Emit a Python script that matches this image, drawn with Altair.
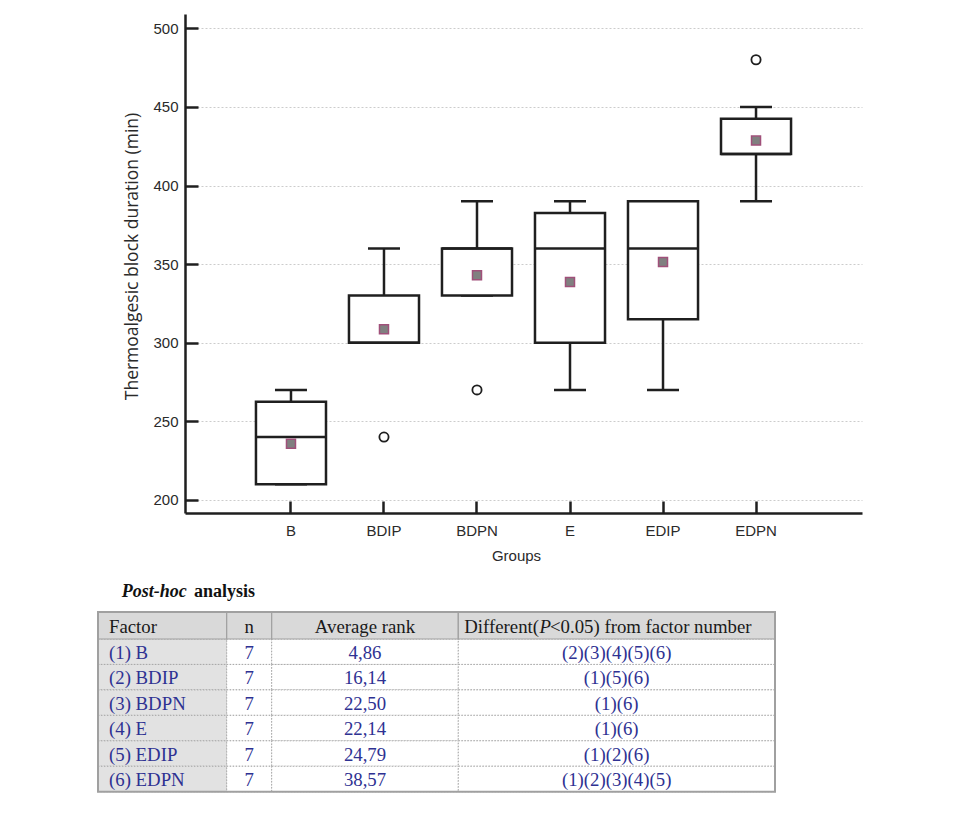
import altair as alt
import pandas as pd

# ---------------- data ----------------
groups = ["B", "BDIP", "BDPN", "E", "EDIP", "EDPN"]
whisker_low = [210, 300, 330, 270, 270, 390]
q1 = [210, 300, 330, 300, 315, 420]
median = [240, 300, 360, 360, 360, 420]
q3 = [262.5, 330, 360, 382.5, 390, 442.5]
whisker_high = [270, 360, 390, 390, 390, 450]
means = [235.71, 308.57, 342.86, 338.57, 351.43, 428.57]
outlier_groups = ["BDIP", "BDPN", "EDPN"]
outlier_values = [240, 270, 480]
y_ticks = [200, 250, 300, 350, 400, 450, 500]

table_title_italic = "Post-hoc"
table_title_bold = "analysis"
header_factor = "Factor"
header_n = "n"
header_rank = "Average rank"
header_diff = ["Different(", "P", "<0.05) from factor number"]
factors = ["(1) B", "(2) BDIP", "(3) BDPN", "(4) E", "(5) EDIP", "(6) EDPN"]
n_values = ["7", "7", "7", "7", "7", "7"]
avg_rank = ["4,86", "16,14", "22,50", "22,14", "24,79", "38,57"]
different = ["(2)(3)(4)(5)(6)", "(1)(5)(6)", "(1)(6)", "(1)(6)", "(1)(2)(6)", "(1)(2)(3)(4)(5)"]

# ---------------- layout / style ----------------
W, H = 677, 499
AX = "#1f1f1f"
TXT = "#2a2a2a"
BLUE = "#2e3192"
SANS = "Liberation Sans"
SERIF = "Liberation Serif"
TFS = 18.8

box_df = pd.DataFrame({"group": groups, "lo": whisker_low, "q1": q1, "med": median,
                       "q3": q3, "hi": whisker_high, "mean": means})
out_df = pd.DataFrame({"group": outlier_groups, "value": outlier_values})

xscale = alt.Scale(type="band", domain=groups, paddingInner=0.247, paddingOuter=0.763)
yscale = alt.Scale(domain=[191.7, 509.1], nice=False, zero=False)

x_axis = alt.Axis(title="Groups", labelAngle=0, ticks=False, tickSize=0, domainColor=AX,
                  domainWidth=2.5, labelFont=SANS, labelFontSize=15, labelColor=TXT,
                  labelPadding=10, titleFont=SANS, titleFontSize=15, titleFontWeight="normal",
                  titleColor=TXT, titlePadding=10, titleX=331, grid=False)
y_axis = alt.Axis(title="Thermoalgesic block duration (min)", values=y_ticks, ticks=False,
                  tickSize=0, domainColor=AX, domainWidth=2.5, labelFont=SANS,
                  labelFontSize=15, labelColor=TXT, labelPadding=7, grid=True,
                  gridColor="#cccccc", gridDash=[2, 2], gridWidth=1, titleFont="Open Sans",
                  titleFontSize=17.5, titleFontWeight="normal", titleColor=TXT, titlePadding=11,
                  titleY=242)

X = alt.X("group:N", scale=xscale, axis=x_axis)

def Y(field):
    return alt.Y(field, scale=yscale, axis=y_axis)

base = alt.Chart(box_df)
whisk_lo = base.mark_rule(color=AX, strokeWidth=2.5, opacity=1).encode(x=X, y=Y("lo:Q"), y2="q1:Q")
whisk_hi = base.mark_rule(color=AX, strokeWidth=2.5, opacity=1).encode(x=X, y=Y("q3:Q"), y2="hi:Q")
cap_lo = base.mark_tick(color=AX, size=32, thickness=2.5, opacity=1).encode(x=X, y=Y("lo:Q"))
cap_hi = base.mark_tick(color=AX, size=32, thickness=2.5, opacity=1).encode(x=X, y=Y("hi:Q"))
boxes = base.mark_bar(fill="white", stroke=AX, strokeWidth=2.5, opacity=1).encode(
    x=X, y=Y("q1:Q"), y2="q3:Q")
med = base.mark_tick(color=AX, size=70, thickness=2.5, opacity=1).encode(x=X, y=Y("med:Q"))
mean_pts = base.mark_square(size=81, filled=True, fill="#808080", stroke="#a0507a",
                            strokeWidth=1.5, opacity=1).encode(x=X, y=Y("mean:Q"))
outl = alt.Chart(out_df).mark_point(shape="circle", size=85, filled=False, stroke=AX,
                                    strokeWidth=1.8, opacity=1).encode(x=X, y=Y("value:Q"))

box_layer = alt.layer(whisk_lo, whisk_hi, cap_lo, cap_hi, boxes, med, mean_pts, outl)

# inward ticks via mirrored axes
tick_layer = alt.Chart(box_df).mark_point(opacity=0).encode(
    x=alt.X("group:N", scale=xscale,
            axis=alt.Axis(orient="top", offset=-H, labels=False, domain=False, ticks=True,
                          tickSize=12, tickWidth=2.5, tickColor=AX, grid=False, title=None)),
    y=alt.Y("mean:Q", scale=yscale,
            axis=alt.Axis(orient="right", offset=-W, values=y_ticks, labels=False,
                          domain=False, ticks=True, tickSize=13, tickWidth=2.5,
                          tickColor=AX, grid=False, title=None)),
)

# ---------------- table ----------------
col_edges = [0, 128.7, 173.7, 360.3, 677]
header_h = 27
row_h = 25.45
tx_scale = alt.Scale(domain=[87, 87 + W], nice=False, zero=False)
ty_scale = alt.Scale(domain=[-598, -598 + H], nice=False, zero=False, reverse=True)

cells = []
for r in range(7):
    y0 = 0 if r == 0 else header_h + (r - 1) * row_h
    y1 = header_h if r == 0 else y0 + row_h
    for c in range(4):
        fill = "#d9d9d9" if r == 0 else ("#e2e2e2" if c == 0 else "#ffffff")
        cells.append({"x0": col_edges[c], "x1": col_edges[c + 1], "y0": y0, "y1": y1,
                      "fill": fill, "hdr": r == 0})
cells_df = pd.DataFrame(cells)

TXs = lambda f: alt.X(f, scale=tx_scale, axis=None)
TYs = lambda f: alt.Y(f, scale=ty_scale, axis=None)

body_rects = alt.Chart(cells_df).transform_filter("!datum.hdr").mark_rect(
    stroke="#a8a8a8", strokeWidth=1, strokeDash=[1.5, 1.5]).encode(
    x=TXs("x0:Q"), x2="x1:Q", y=TYs("y0:Q"), y2="y1:Q", fill=alt.Fill("fill:N", scale=None))
hdr_rects = alt.Chart(cells_df).transform_filter("datum.hdr").mark_rect(
    stroke="#a0a0a0", strokeWidth=1.2).encode(
    x=TXs("x0:Q"), x2="x1:Q", y=TYs("y0:Q"), y2="y1:Q", fill=alt.Fill("fill:N", scale=None))
border_df = pd.DataFrame({"x0": [col_edges[0]], "x1": [col_edges[-1]], "y0": [0],
                          "y1": [header_h + 6 * row_h]})
border = alt.Chart(border_df).mark_rect(fill=None, stroke="#a0a0a0", strokeWidth=2).encode(
    x=TXs("x0:Q"), x2="x1:Q", y=TYs("y0:Q"), y2="y1:Q")

left_texts = [{"x": 11, "y": header_h / 2, "t": header_factor, "col": "#1a1a1a"}]
center_texts = [
    {"x": (col_edges[1] + col_edges[2]) / 2, "y": header_h / 2, "t": header_n, "col": "#1a1a1a"},
    {"x": (col_edges[2] + col_edges[3]) / 2, "y": header_h / 2, "t": header_rank, "col": "#1a1a1a"},
]
for i in range(6):
    yc = header_h + row_h * (i + 0.5)
    left_texts.append({"x": 11, "y": yc, "t": factors[i], "col": BLUE})
    center_texts.append({"x": (col_edges[1] + col_edges[2]) / 2, "y": yc, "t": n_values[i], "col": BLUE})
    center_texts.append({"x": (col_edges[2] + col_edges[3]) / 2, "y": yc, "t": avg_rank[i], "col": BLUE})
    center_texts.append({"x": (col_edges[3] + col_edges[4]) / 2, "y": yc, "t": different[i], "col": BLUE})

def text_layer(rows, align, style="normal", weight="normal", size=TFS):
    return alt.Chart(pd.DataFrame(rows)).mark_text(
        align=align, baseline="middle", font=SERIF, fontSize=size, fontStyle=style,
        fontWeight=weight, dy=1).encode(
        x=TXs("x:Q"), y=TYs("y:Q"), text="t:N", color=alt.Color("col:N", scale=None))

left_t = text_layer(left_texts, "left")
center_t = text_layer(center_texts, "center")
hd_a = text_layer([{"x": 441, "y": header_h / 2, "t": header_diff[0], "col": "#1a1a1a"}], "right")
hd_b = text_layer([{"x": 441.5, "y": header_h / 2, "t": header_diff[1], "col": "#1a1a1a"}], "left", style="italic")
hd_c = text_layer([{"x": 452, "y": header_h / 2, "t": header_diff[2], "col": "#1a1a1a"}], "left")
title_a = text_layer([{"x": 23.7, "y": -21, "t": table_title_italic, "col": "#111111"}], "left",
                     style="italic", weight="bold", size=18)
title_b = text_layer([{"x": 96, "y": -21, "t": table_title_bold, "col": "#111111"}], "left",
                     weight="bold", size=18)

table_layer = alt.layer(body_rects, hdr_rects, border, left_t, center_t, hd_a, hd_b, hd_c,
                        title_a, title_b)

chart = alt.layer(box_layer, tick_layer, table_layer).resolve_scale(
    x="independent", y="independent"
).properties(
    width=W, height=H,
    autosize=alt.AutoSizeParams(type="none"),
    padding={"left": 177, "top": 6, "right": 90, "bottom": 297},
    background="white",
).configure_view(stroke=None)

chart.save("out.html", embed_options={"renderer": "svg", "actions": False})
